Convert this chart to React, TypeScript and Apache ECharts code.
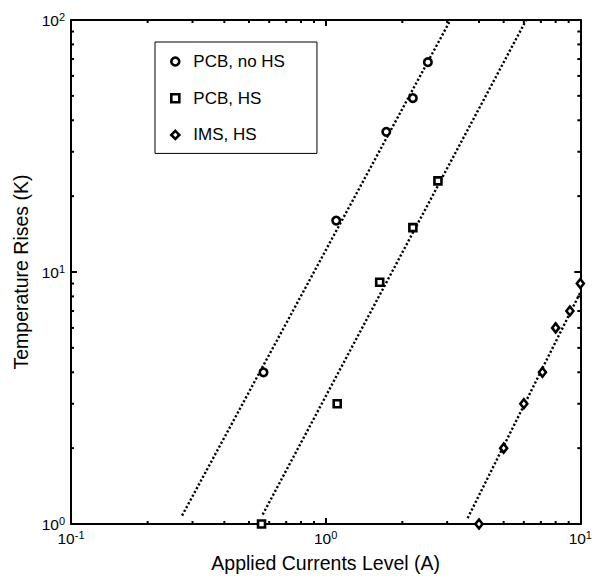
import React, { useEffect, useRef } from 'react';
import * as echarts from 'echarts';

// Axis ranges (log scales)
const X_RANGE = [0.1, 10];
const Y_RANGE = [1, 100];

// Series names
const seriesNames = ['PCB, no HS', 'PCB, HS', 'IMS, HS'];

// Measured points
const pcbNoHsCurrent = [0.57, 1.1, 1.73, 2.2, 2.52];
const pcbNoHsTemp = [4.0, 16, 36, 49, 68];
const pcbHsCurrent = [0.56, 1.11, 1.63, 2.2, 2.76];
const pcbHsTemp = [1.0, 3.0, 9.1, 15, 23];
const imsHsCurrent = [4.0, 5.0, 6.0, 7.1, 8.0, 9.1, 10];
const imsHsTemp = [1.0, 2.0, 3.0, 4.0, 6.0, 7.0, 9.0];

// Power-law fit lines (end points)
const pcbNoHsFitCurrent = [0.273, 3.09];
const pcbNoHsFitTemp = [1.08, 100];
const pcbHsFitCurrent = [0.566, 6.13];
const pcbHsFitTemp = [1.09, 100];
const imsHsFitCurrent = [3.61, 10];
const imsHsFitTemp = [1.055, 8.3];

// Minor tick values
const xMinorTicks = [0.2, 0.3, 0.4, 0.5, 0.6, 0.7, 0.8, 0.9, 2, 3, 4, 5, 6, 7, 8, 9];
const yMinorTicks = [2, 3, 4, 5, 6, 7, 8, 9, 20, 30, 40, 50, 60, 70, 80, 90];

const FONT = '"Liberation Sans", Arial, Helvetica, sans-serif';
const BLACK = '#000';
const MINOR_LEN = 3;

const zip = (xs: number[], ys: number[]) => xs.map((x, i) => [x, ys[i]]);

const expFormatter = (v: number) => `{b|10}{s|${Math.round(Math.log10(v))}}`;

const richLabel = {
  b: { fontSize: 15.5, lineHeight: 18, fontFamily: FONT, color: BLACK },
  s: { fontSize: 11, lineHeight: 10, verticalAlign: 'top', fontFamily: FONT, color: BLACK },
};

const axisCommon = {
  axisLine: { show: true, lineStyle: { color: BLACK, width: 2 } },
  axisTick: { show: true, inside: true, length: 6, lineStyle: { color: BLACK, width: 2 } },
  splitLine: { show: false },
  minorTick: { show: false },
};

const tickStyle = { stroke: BLACK, lineWidth: 2 };

const renderXMinor = (_params: any, api: any) => {
  const v = api.value(0);
  const b = api.coord([v, Y_RANGE[0]]);
  const t = api.coord([v, Y_RANGE[1]]);
  return {
    type: 'group',
    children: [
      { type: 'line', shape: { x1: b[0], y1: b[1], x2: b[0], y2: b[1] - MINOR_LEN }, style: tickStyle },
      { type: 'line', shape: { x1: t[0], y1: t[1], x2: t[0], y2: t[1] + MINOR_LEN }, style: tickStyle },
    ],
  };
};

const renderYMinor = (_params: any, api: any) => {
  const v = api.value(1);
  const l = api.coord([X_RANGE[0], v]);
  const r = api.coord([X_RANGE[1], v]);
  return {
    type: 'group',
    children: [
      { type: 'line', shape: { x1: l[0], y1: l[1], x2: l[0] + MINOR_LEN, y2: l[1] }, style: tickStyle },
      { type: 'line', shape: { x1: r[0], y1: r[1], x2: r[0] - MINOR_LEN, y2: r[1] }, style: tickStyle },
    ],
  };
};

const fitLine = (xs: number[], ys: number[]) => ({
  type: 'line',
  data: zip(xs, ys),
  showSymbol: false,
  symbol: 'none',
  silent: true,
  z: 1,
  lineStyle: { color: BLACK, width: 2.4, type: [2.2, 2.1], cap: 'butt', opacity: 1 },
});

const markerStyle = { color: '#fff', borderColor: BLACK, borderWidth: 2.6, opacity: 1 };

const option: any = {
  animation: false,
  backgroundColor: '#fff',
  grid: { left: 71, right: 13, top: 20, bottom: 46, containLabel: false },
  legend: {
    orient: 'vertical',
    left: 155,
    top: 42,
    padding: [11, 32, 10, 15],
    itemGap: 19.7,
    itemWidth: 8,
    itemHeight: 8,
    borderColor: BLACK,
    borderWidth: 1,
    backgroundColor: '#fff',
    itemStyle: { color: '#fff', borderColor: BLACK, borderWidth: 2.6 },
    formatter: (name: string) => `{t|${name}}`,
    textStyle: {
      fontSize: 17,
      fontFamily: FONT,
      color: BLACK,
      rich: { t: { fontSize: 17, fontFamily: FONT, color: BLACK, padding: [0, 0, 0, 9] } },
    },
    data: [
      { name: seriesNames[0], icon: 'circle' },
      { name: seriesNames[1], icon: 'rect' },
      { name: seriesNames[2], icon: 'diamond' },
    ],
  },
  xAxis: [
    {
      type: 'log',
      min: X_RANGE[0],
      max: X_RANGE[1],
      position: 'bottom',
      name: 'Applied Currents Level (A)',
      nameLocation: 'middle',
      nameGap: 29,
      nameTextStyle: { fontSize: 19.5, fontFamily: FONT, color: BLACK },
      axisLabel: {
        show: true,
        margin: 5,
        showMinLabel: true,
        showMaxLabel: true,
        formatter: expFormatter,
        rich: richLabel,
      },
      ...axisCommon,
    },
    {
      type: 'log',
      min: X_RANGE[0],
      max: X_RANGE[1],
      position: 'top',
      axisLabel: { show: false },
      ...axisCommon,
    },
  ],
  yAxis: [
    {
      type: 'log',
      min: Y_RANGE[0],
      max: Y_RANGE[1],
      position: 'left',
      name: 'Temperature Rises (K)',
      nameLocation: 'middle',
      nameGap: 38,
      nameTextStyle: { fontSize: 19.5, fontFamily: FONT, color: BLACK },
      axisLabel: {
        show: true,
        margin: 6,
        showMinLabel: true,
        showMaxLabel: true,
        formatter: expFormatter,
        rich: richLabel,
      },
      ...axisCommon,
    },
    {
      type: 'log',
      min: Y_RANGE[0],
      max: Y_RANGE[1],
      position: 'right',
      axisLabel: { show: false },
      ...axisCommon,
    },
  ],
  series: [
    fitLine(pcbNoHsFitCurrent, pcbNoHsFitTemp),
    fitLine(pcbHsFitCurrent, pcbHsFitTemp),
    fitLine(imsHsFitCurrent, imsHsFitTemp),
    {
      type: 'custom',
      silent: true,
      renderItem: renderXMinor,
      data: xMinorTicks.map((v) => [v, Y_RANGE[0]]),
      z: 3,
    },
    {
      type: 'custom',
      silent: true,
      renderItem: renderYMinor,
      data: yMinorTicks.map((v) => [X_RANGE[0], v]),
      z: 3,
    },
    {
      name: seriesNames[0],
      type: 'scatter',
      symbol: 'circle',
      symbolSize: 7.5,
      itemStyle: markerStyle,
      data: zip(pcbNoHsCurrent, pcbNoHsTemp),
      z: 5,
    },
    {
      name: seriesNames[1],
      type: 'scatter',
      symbol: 'rect',
      symbolSize: 7,
      itemStyle: markerStyle,
      data: zip(pcbHsCurrent, pcbHsTemp),
      z: 5,
    },
    {
      name: seriesNames[2],
      type: 'scatter',
      symbol: 'diamond',
      symbolSize: [7, 9],
      itemStyle: markerStyle,
      data: zip(imsHsCurrent, imsHsTemp),
      z: 5,
    },
  ],
};

export default function App() {
  const ref = useRef<HTMLDivElement>(null);
  useEffect(() => {
    if (!ref.current) return;
    const chart = echarts.init(ref.current, null, { renderer: 'svg' });
    chart.setOption(option);
    return () => {
      chart.dispose();
    };
  }, []);
  return (
    <div
      ref={ref}
      style={{ position: 'fixed', left: 0, top: 0, width: 595, height: 578, background: '#fff' }}
    />
  );
}
